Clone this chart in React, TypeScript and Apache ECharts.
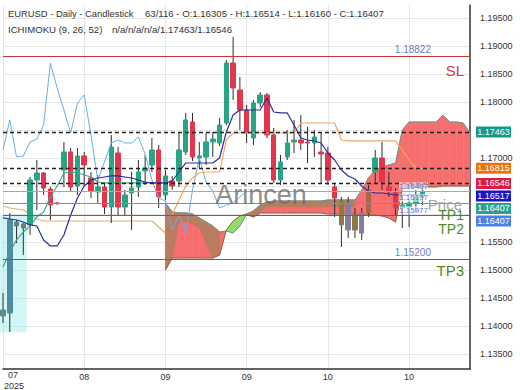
import React, { useEffect, useRef } from "react";
import * as echarts from "echarts";

const FONT = "'Liberation Sans', Arial, sans-serif";
const SLOT_COUNT = 70;
const TOTAL_BARS = 116;
const monthTicks: Record<number, string> = { 12: "08", 24: "09", 36: "09", 48: "10", 60: "10" };
const firstMonthLabel = ["07", "2025"];
const gridPrices = [1.135, 1.14, 1.145, 1.15, 1.155, 1.16, 1.165, 1.17, 1.175, 1.18, 1.185, 1.19, 1.195];
const labelPrices = [1.135, 1.14, 1.145, 1.15, 1.155, 1.17, 1.18, 1.185, 1.19, 1.195];

// [open, close, low, high]
const ohlc: number[][] = [
  [1.14179, 1.14286, 1.14054, 1.14589],
  [1.14232, 1.15893, 1.13893, 1.16018],
  [1.15786, 1.15857, 1.15482, 1.15893],
  [1.1575, 1.15821, 1.15268, 1.15839],
  [1.15804, 1.16607, 1.15625, 1.16661],
  [1.16607, 1.16732, 1.16071, 1.16964],
  [1.16732, 1.16464, 1.16339, 1.1675],
  [1.16446, 1.16161, 1.15893, 1.16482],
  [1.16196, 1.1619, 1.16161, 1.16214],
  [1.16786, 1.17107, 1.16482, 1.17286],
  [1.17107, 1.16482, 1.16393, 1.17179],
  [1.165, 1.17036, 1.16339, 1.17179],
  [1.17036, 1.16875, 1.165, 1.17107],
  [1.16643, 1.16411, 1.16286, 1.1675],
  [1.16393, 1.16482, 1.16196, 1.16696],
  [1.16482, 1.16125, 1.16, 1.16554],
  [1.16125, 1.17196, 1.15839, 1.17411],
  [1.17089, 1.16125, 1.15982, 1.17196],
  [1.16125, 1.16339, 1.15982, 1.16429],
  [1.16375, 1.16464, 1.15714, 1.1675],
  [1.16482, 1.1675, 1.16304, 1.16964],
  [1.16768, 1.16821, 1.16518, 1.17054],
  [1.16875, 1.17143, 1.1675, 1.17357],
  [1.17143, 1.16304, 1.16107, 1.17232],
  [1.16339, 1.16679, 1.1625, 1.16786],
  [1.16589, 1.165, 1.16429, 1.16679],
  [1.16589, 1.17143, 1.16482, 1.17446],
  [1.17107, 1.17679, 1.17054, 1.17804],
  [1.17643, 1.17018, 1.16946, 1.17804],
  [1.17, 1.17036, 1.16821, 1.17286],
  [1.17018, 1.17286, 1.16875, 1.17446],
  [1.17286, 1.17339, 1.17018, 1.17464],
  [1.17268, 1.17589, 1.17214, 1.17714],
  [1.17625, 1.18696, 1.17589, 1.1875],
  [1.18696, 1.1825, 1.18036, 1.19161],
  [1.18214, 1.17857, 1.175, 1.18446],
  [1.17857, 1.17446, 1.17268, 1.17946],
  [1.17357, 1.17982, 1.17232, 1.18036],
  [1.17982, 1.18125, 1.17911, 1.18179],
  [1.18125, 1.17411, 1.17357, 1.18161],
  [1.17411, 1.16607, 1.16554, 1.17536],
  [1.16607, 1.16929, 1.16518, 1.17054],
  [1.17018, 1.17268, 1.16964, 1.175],
  [1.17286, 1.17321, 1.17089, 1.17679],
  [1.17321, 1.17268, 1.17143, 1.17768],
  [1.17286, 1.17268, 1.16911, 1.17554],
  [1.17268, 1.17375, 1.17018, 1.175],
  [1.17107, 1.17071, 1.16554, 1.17464],
  [1.17089, 1.16607, 1.16518, 1.17196],
  [1.16482, 1.16286, 1.15946, 1.16554],
  [1.15804, 1.16232, 1.15411, 1.16304],
  [1.16196, 1.15714, 1.15571, 1.16304],
  [1.15714, 1.15982, 1.15571, 1.16107],
  [1.16018, 1.15661, 1.15536, 1.16107],
  [1.16018, 1.16429, 1.15946, 1.16518],
  [1.1675, 1.17, 1.16554, 1.17143],
  [1.17, 1.16571, 1.16429, 1.17286],
  [1.16482, 1.16411, 1.16304, 1.1675],
  [1.16393, 1.16107, 1.15982, 1.16464],
  [1.16107, 1.16161, 1.1575, 1.16339],
  [1.16125, 1.16196, 1.15768, 1.1625],
  [1.16196, 1.16304, 1.16036, 1.16429],
  [1.16305, 1.16407, 1.1616, 1.16514],
];

const tenkan = [
  1.15929, 1.15911, 1.15893, 1.15857, 1.15804, 1.15786, 1.15536, 1.15429, 1.15429, 1.15625,
  1.15982, 1.16286, 1.165, 1.16607, 1.16643, 1.16661, 1.16679, 1.16679, 1.16661, 1.16643,
  1.16607, 1.16571, 1.16554, 1.16554, 1.16554, 1.16589, 1.1675, 1.16911, 1.16911, 1.16911,
  1.16911, 1.16911, 1.17, 1.17464, 1.17768, 1.17857, 1.17857, 1.17857, 1.17857, 1.18071,
  1.17821, 1.17804, 1.17804, 1.17589, 1.17357, 1.17321, 1.17304, 1.17268, 1.17089, 1.16964,
  1.16786, 1.16679, 1.16625, 1.165, 1.16411, 1.16375, 1.16375, 1.16357, 1.16339, 1.16339,
  1.16339, 1.16339, 1.16339,
];

const kijun = [
  1.15054, 1.15321, 1.15536, 1.15679, 1.15786, 1.15946, 1.16036, 1.16304, 1.165, 1.16732,
  1.1675, 1.16732, 1.16696, 1.16661, 1.16571, 1.16554, 1.16554, 1.16554, 1.16554, 1.16554,
  1.16554, 1.16554, 1.16554, 1.16554, 1.16554, 1.15982, 1.1625, 1.165, 1.16643, 1.16732,
  1.1675, 1.1675, 1.1675, 1.17321, 1.17446, 1.17446, 1.17446, 1.17446, 1.17446, 1.17446,
  1.17446, 1.17446, 1.17446, 1.17446, 1.17625, 1.17625, 1.17625, 1.17625, 1.17625, 1.17625,
  1.17321, 1.17304, 1.17304, 1.17304, 1.17304, 1.17304, 1.17304, 1.17304, 1.17304, 1.17143,
  1.16964, 1.16821, 1.16815,
];
const KIJUN_SPLIT = 25;

const oldSpan = [
  1.16143, 1.16107, 1.16089, 1.16071, 1.16, 1.15911, 1.15875, 1.15875, 1.15875, 1.15875,
  1.15875, 1.15875, 1.15875, 1.15875, 1.15875, 1.15875, 1.15875, 1.15875, 1.15875, 1.15875,
  1.15875, 1.15875, 1.15875, 1.15768, 1.15661,
];

const CLOUD_START = 24;
const spanA = [
  1.16196, 1.16036, 1.16018, 1.16018, 1.16, 1.15929, 1.15857, 1.15786, 1.15679, 1.15696,
  1.15661, 1.15786, 1.16, 1.16054, 1.16161, 1.16214, 1.16232, 1.16232, 1.16232, 1.16232,
  1.16232, 1.16232, 1.16232, 1.16232, 1.1625, 1.1625, 1.1625, 1.1625, 1.1625, 1.16429,
  1.16643, 1.16786, 1.16839, 1.16875, 1.16911, 1.175, 1.17643, 1.17643, 1.17643, 1.17643,
  1.17643, 1.17768, 1.17643, 1.17643, 1.17625, 1.17446,
];
const spanB = [
  1.15, 1.15214, 1.15214, 1.15214, 1.15214, 1.15214, 1.15214, 1.15214, 1.15268, 1.15714,
  1.15875, 1.15964, 1.16, 1.15946, 1.16018, 1.16018, 1.16018, 1.16018, 1.16018, 1.16018,
  1.16018, 1.16018, 1.16018, 1.16018, 1.16, 1.16, 1.16, 1.16, 1.16, 1.15982,
  1.15982, 1.15982, 1.15964, 1.15929, 1.15857, 1.16446, 1.16482, 1.16482, 1.16482, 1.16482,
  1.16482, 1.165, 1.165, 1.165, 1.165, 1.165,
];
const shadeTop = [
  1.16196, 1.16036, 1.16018, 1.16018, 1.16, 1.15929, 1.15857, 1.15786, 1.15679, null,
  null, null, 1.16, 1.16054, 1.16161, 1.16214, 1.16232, 1.16232, 1.16232, 1.16232,
  1.16232, 1.16232, 1.16232, 1.16232, 1.1625, 1.1625, 1.1625, 1.1625, 1.1625,
];
const shadeBottom = [
  1.15, 1.15214, 1.15857, 1.15857, 1.15821, 1.1575, 1.15482, 1.15214, 1.15268, null,
  null, null, 1.15982, 1.15946, 1.16036, 1.16125, 1.16125, 1.16125, 1.16125, 1.16125,
  1.16125, 1.16125, 1.16125, 1.16125, 1.16125, 1.16125, 1.16125, 1.16125, 1.16125,
];

const cyanZone = { from: 0, to: 3, top: 1.1598, bottom: 1.1389 };

const levels = { sl: 1.18822, price: 1.16407, tp1: 1.16197, tp2: 1.15977, tp3: 1.152 };
const dashedLevels = [1.17463, 1.16815, 1.16546];
const priceTags = [
  { value: 1.17463, color: "#14998b" },
  { value: 1.16815, color: "#ec720e" },
  { value: 1.16546, color: "#dc1a44" },
  { value: 1.16517, color: "#1515c4" },
  { value: 1.16407, color: "#2ba190" },
  { value: 1.16407, color: "#4c80e6" },
];
const ichimokuReadout = "n/a/n/a/n/a/1.17463/1.16546";

const BULL = "#26a684";
const BEAR = "#e5354c";
const candleTint: Record<number, string> = {
  0: "#5d8f88", 1: "#4f8c9c", 2: "#66807a", 3: "#66807a",
  50: "#8b7b43", 51: "#877c9f", 52: "#8b7b43", 53: "#877c9f", 54: "#a2694f",
};

const pad = (arr: (number | null)[], start: number) =>
  Array.from({ length: SLOT_COUNT }, (_, i) =>
    i >= start && i - start < arr.length ? arr[i - start] : null
  );

export default function App() {
  const ref = useRef<HTMLDivElement>(null);
  useEffect(() => {
    const chart = echarts.init(ref.current!, undefined, { renderer: "svg" });
    const cats = Array.from({ length: SLOT_COUNT }, (_, i) => String(i));
    const chikou = ohlc.slice(26).map((d) => d[1]);

    const cloudData: number[][] = [];
    for (let k = 0; k < spanA.length - 1; k++) {
      cloudData.push([CLOUD_START + k, spanA[k], spanB[k], spanA[k + 1], spanB[k + 1]]);
    }
    const shadeData: number[][] = [];
    for (let k = 0; k < shadeTop.length - 1; k++) {
      if (shadeTop[k] == null || shadeTop[k + 1] == null) continue;
      shadeData.push([CLOUD_START + k, shadeTop[k]!, shadeBottom[k]!, shadeTop[k + 1]!, shadeBottom[k + 1]!]);
    }

    const bandRender = (fillFor: (d: number) => string) => (params: any, api: any) => {
      const i = api.value(0);
      const a0 = api.value(1), b0 = api.value(2), a1 = api.value(3), b1 = api.value(4);
      const pA0 = api.coord([i, a0]), pB0 = api.coord([i, b0]);
      const pA1 = api.coord([i + 1, a1]), pB1 = api.coord([i + 1, b1]);
      const d0 = a0 - b0, d1 = a1 - b1;
      const st = (c: string) => ({ fill: c, stroke: c, lineWidth: 0.6 });
      if (d0 * d1 < 0) {
        const t = d0 / (d0 - d1);
        const xc = pA0[0] + t * (pA1[0] - pA0[0]);
        const yc = pA0[1] + t * (pA1[1] - pA0[1]);
        return {
          type: "group",
          children: [
            { type: "polygon", shape: { points: [pA0, [xc, yc], pB0] }, style: st(fillFor(d0)) },
            { type: "polygon", shape: { points: [[xc, yc], pA1, pB1] }, style: st(fillFor(d1)) },
          ],
        };
      }
      const d = Math.abs(d0) > Math.abs(d1) ? d0 : d1;
      return { type: "polygon", shape: { points: [pA0, pA1, pB1, pB0] }, style: st(fillFor(d)) };
    };

    const lineBase = {
      type: "line",
      symbol: "none",
      showSymbol: false,
      connectNulls: false,
      silent: true,
    };

    const option: any = {
      animation: false,
      backgroundColor: "#ffffff",
      textStyle: { fontFamily: FONT },
      grid: { left: 3, right: 50, top: 5, bottom: 21, containLabel: false, outerBoundsMode: "none" },
      xAxis: {
        type: "category",
        data: cats,
        boundaryGap: false,
        axisLine: { lineStyle: { color: "#333", width: 1.5 } },
        axisTick: { show: false },
        axisLabel: {
          interval: (i: number) => monthTicks[i] !== undefined,
          formatter: (_v: string, i: number) => monthTicks[i] ?? "",
          fontSize: 9,
          color: "#333",
          margin: 3,
        },
        splitLine: {
          show: true,
          interval: (i: number) => i % 12 === 0,
          lineStyle: { color: "#e6e6e6", width: 1 },
        },
      },
      yAxis: {
        type: "value",
        position: "right",
        min: 1.13232,
        max: 1.19732,
        axisLine: { show: true, lineStyle: { color: "#333", width: 1.5 } },
        axisTick: { show: false, customValues: gridPrices },
        axisLabel: {
          customValues: labelPrices,
          formatter: (v: number) => v.toFixed(5),
          fontSize: 9,
          color: "#333",
          margin: 10,
        },
        splitLine: { show: true, lineStyle: { color: "#e6e6e6", width: 1 } },
      },
      series: [
        {
          type: "custom",
          z: 1,
          silent: true,
          data: [[cyanZone.from, cyanZone.top, cyanZone.to, cyanZone.bottom]],
          encode: { x: [0, 2], y: [1, 3] },
          renderItem: (params: any, api: any) => {
            const p0 = api.coord([api.value(0), api.value(1)]);
            const p1 = api.coord([api.value(2), api.value(3)]);
            const half = api.size([1, 0])[0] / 2;
            return {
              type: "rect",
              shape: { x: p0[0] - half, y: p0[1], width: p1[0] - p0[0] + 2 * half, height: p1[1] - p0[1] },
              style: { fill: "rgba(150,236,236,0.45)" },
            };
          },
        },
        {
          type: "custom",
          z: 2,
          silent: true,
          data: cloudData,
          encode: { x: 0, y: [1, 2, 3, 4] },
          renderItem: bandRender((d) => (d >= 0 ? "#f76e6e" : "#93dc6b")),
        },
        {
          type: "custom",
          z: 3,
          silent: true,
          data: shadeData,
          encode: { x: 0, y: [1, 2, 3, 4] },
          renderItem: bandRender(() => "#b97c5f"),
        },
        { ...lineBase, z: 3, data: pad(spanA, CLOUD_START), lineStyle: { color: "#5f9a88", width: 1 } },
        { ...lineBase, z: 3, data: pad(spanB, CLOUD_START), lineStyle: { color: "#8a6a42", width: 1 } },
        { ...lineBase, z: 3, data: pad(oldSpan, 0), lineStyle: { color: "#d2b679", width: 1.2 } },
        {
          type: "custom",
          z: 4,
          silent: true,
          data: ohlc.map((d, i) => [i, d[2], d[3]]),
          encode: { x: 0, y: [1, 2] },
          renderItem: (params: any, api: any) => {
            const lo = api.coord([api.value(0), api.value(1)]);
            const hi = api.coord([api.value(0), api.value(2)]);
            return {
              type: "line",
              shape: { x1: lo[0], y1: lo[1], x2: hi[0], y2: hi[1] },
              style: { stroke: "#2e2e2e", lineWidth: 1 },
            };
          },
        },
        {
          type: "candlestick",
          z: 5,
          silent: true,
          barWidth: 5,
          itemStyle: { color: BULL, color0: BEAR, borderColor: BULL, borderColor0: BEAR, borderWidth: 1 },
          data: ohlc.map((d, i) => {
            const item: any = { value: [d[0], d[1], Math.min(d[0], d[1]), Math.max(d[0], d[1])] };
            const c = candleTint[i];
            if (c) item.itemStyle = { color: c, color0: c, borderColor: c, borderColor0: c };
            return item;
          }),
        },
        { ...lineBase, z: 6, data: pad(chikou, 0), lineStyle: { color: "#6aaee2", width: 1 } },
        {
          ...lineBase,
          z: 6,
          data: kijun.map((v, i) => (i < KIJUN_SPLIT ? v : null)),
          lineStyle: { color: "#3aa88c", width: 1.2 },
        },
        {
          ...lineBase,
          z: 6,
          data: kijun.map((v, i) => (i >= KIJUN_SPLIT ? v : null)),
          lineStyle: { color: "#f2a464", width: 1.2 },
        },
        { ...lineBase, z: 6, data: pad(tenkan, 0), lineStyle: { color: "#2c2c9c", width: 1.2 } },
      ],
    };
    chart.setOption(option);

    const py = (v: number) => chart.convertToPixel({ yAxisIndex: 0 }, v) as number;
    const px = (i: number) => chart.convertToPixel({ xAxisIndex: 0 }, i) as number;
    const xL = px(0);
    const xR = px(SLOT_COUNT - 1);
    const hline = (v: number, color: string, width: number, dash?: number[]) => ({
      type: "line",
      z: 10,
      silent: true,
      shape: { x1: xL, y1: Math.round(py(v)) + 0.5, x2: xR, y2: Math.round(py(v)) + 0.5 },
      style: { stroke: color, lineWidth: width, lineDash: dash },
    });
    const txt = (text: string, x: number, y: number, size: number, fill: string, align = "left", extra: any = {}) => ({
      type: "text",
      x,
      y,
      z: 50,
      silent: true,
      style: { text, fill, fontSize: size, fontFamily: FONT, align, verticalAlign: "middle", ...extra },
    });

    const last = ohlc[ohlc.length - 1];
    const graphics: any[] = [
      hline(levels.sl, "#c93535", 1),
      hline(levels.price, "#a8a8a8", 1),
      hline(levels.tp1, "#7f9c5a", 1),
      hline(levels.tp2, "#447f2a", 1),
      hline(levels.tp3, "#447f2a", 1),
      ...dashedLevels.map((v) => hline(v, "#222222", 1.4, [4, 3])),
      txt("EURUSD - Daily - Candlestick", 8, 13, 9.4, "#333"),
      txt(
        `${ohlc.length}/${TOTAL_BARS} - O:${last[0].toFixed(5)} - H:${last[3].toFixed(5)} - L:${last[2].toFixed(5)} - C:${last[1].toFixed(5)}`,
        145, 13, 9.6, "#333"
      ),
      txt("ICHIMOKU (9, 26, 52)", 8, 29, 9.6, "#333"),
      txt(ichimokuReadout, 112, 29, 9.6, "#333"),
      txt(firstMonthLabel[0], 13, 375, 9, "#333", "center"),
      txt(firstMonthLabel[1], 14, 386, 9, "#333", "center"),
      txt("Arincen", 261, 195, 27, "rgba(105,105,105,0.75)", "center"),
      txt("SL", 464, py(levels.sl) + 15, 15, "#d33a3a", "right"),
      txt(levels.sl.toFixed(5), 431, py(levels.sl) - 6, 10, "#6b80c6", "right"),
      txt("Price", 462, py(levels.price) + 13, 15, "#a3a3a3", "right"),
      txt("TP1", 464, py(levels.tp1) + 12, 14, "#4d8b2e", "right"),
      txt("TP2", 464, py(levels.tp2) + 13.5, 14, "#4d8b2e", "right"),
      txt("TP3", 464, py(levels.tp3) + 12, 15, "#4d8b2e", "right"),
      txt(levels.tp3.toFixed(5), 431, py(levels.tp3) - 6, 10, "#6b80c6", "right"),
      ...[levels.price, levels.tp1, levels.tp2].map((v) =>
        txt(v.toFixed(5), 428, py(v) - 5, 8, "#5a70d8", "right", { backgroundColor: "rgba(255,255,255,0.55)" })
      ),
    ];
    let prev = -Infinity;
    priceTags.forEach((t) => {
      let y = py(t.value);
      if (y < prev + 12.5) y = prev + 12.5;
      prev = y;
      graphics.push({
        type: "rect",
        z: 100,
        silent: true,
        shape: { x: 476, y: y - 5.5, width: 35, height: 11 },
        style: { fill: t.color },
      });
      graphics.push({ ...txt(t.value.toFixed(5), 493.5, y, 9, "#ffffff", "center"), z: 101 });
    });
    chart.setOption({ graphic: graphics });

    return () => chart.dispose();
  }, []);
  return <div ref={ref} style={{ position: "fixed", left: 0, top: 0, width: 520, height: 390 }} />;
}
